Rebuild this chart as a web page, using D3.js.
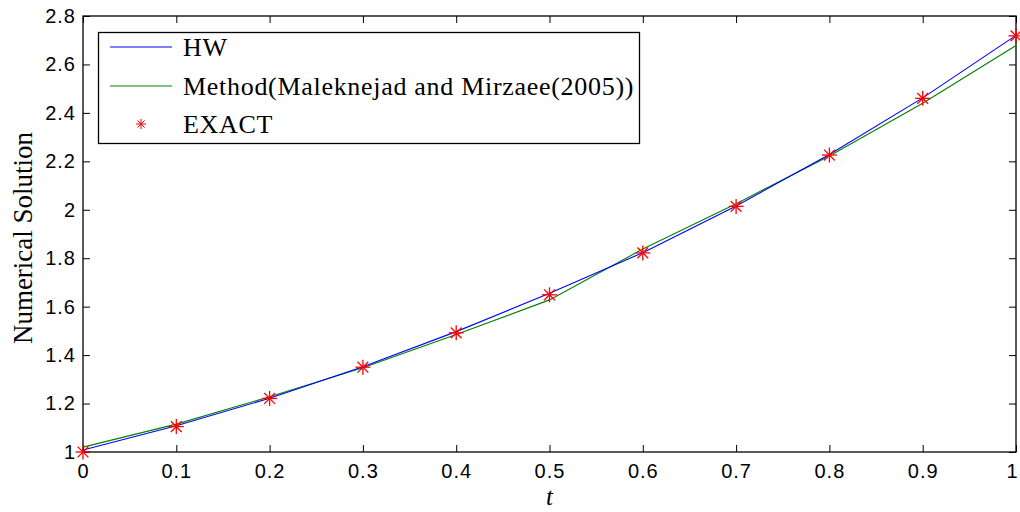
<!DOCTYPE html>
<html>
<head>
<meta charset="utf-8">
<script src="https://cdn.jsdelivr.net/npm/d3@7"></script>
<style>
  body { margin: 0; background: #fff; }
  svg { display: block; }
</style>
</head>
<body>
<div id="chart"></div>
<script>
const tValues = [0, 0.1, 0.2, 0.3, 0.4, 0.5, 0.6, 0.7, 0.8, 0.9, 1.0]
const hwValues = [1.008, 1.108, 1.222, 1.352, 1.497, 1.655, 1.823, 2.016, 2.228, 2.462, 2.720]
const methodValues = [1.020, 1.115, 1.228, 1.348, 1.485, 1.628, 1.838, 2.025, 2.222, 2.440, 2.678]
const exactValues = [1.000, 1.105, 1.221, 1.350, 1.492, 1.649, 1.822, 2.014, 2.226, 2.460, 2.718]
const xTicks = [0, 0.1, 0.2, 0.3, 0.4, 0.5, 0.6, 0.7, 0.8, 0.9, 1]
const yTicks = [1, 1.2, 1.4, 1.6, 1.8, 2, 2.2, 2.4, 2.6, 2.8]
const legendLabels = ["HW", "Method(Maleknejad and Mirzaee(2005))", "EXACT"]

const W = 1020, H = 512
const margin = { top: 16, right: 4, bottom: 60, left: 83 }

const svg = d3.select("#chart")
    .append("svg")
    .attr("width", W)
    .attr("height", H)

const x = d3.scaleLinear()
    .domain([0, 1])
    .range([margin.left, W - margin.right])

const y = d3.scaleLinear()
    .domain([1, 2.8])
    .range([H - margin.bottom, margin.top])

const tickFont = "'Liberation Sans', Arial, sans-serif"
const serif = "'Liberation Serif', 'Times New Roman', serif"

// axes with inward ticks, MATLAB style
const xAxis = d3.axisBottom(x).tickValues(xTicks).tickSizeInner(-7).tickSizeOuter(0)
    .tickPadding(12).tickFormat(d3.format("~g"))
const yAxis = d3.axisLeft(y).tickValues(yTicks).tickSizeInner(-7).tickSizeOuter(0)
    .tickPadding(7).tickFormat(d3.format("~g"))
const xTop = d3.axisTop(x).tickValues(xTicks).tickSizeInner(-7).tickSizeOuter(0).tickFormat("")
const yRight = d3.axisRight(y).tickValues(yTicks).tickSizeInner(-7).tickSizeOuter(0).tickFormat("")

function styleAxis(g) {
    g.attr("font-size", null).attr("font-family", null)
    g.select(".domain").remove()
    g.selectAll("line").attr("stroke", "#000").attr("stroke-width", 1)
    g.selectAll("text").attr("fill", "#000")
        .style("font-family", tickFont).style("font-size", "20px")
        .style("letter-spacing", "1px")
}

const xAxisG = svg.append("g").attr("transform", `translate(0,${y(1)})`).call(xAxis).call(styleAxis)
svg.append("g").attr("transform", `translate(${x(0)},0)`).call(yAxis).call(styleAxis)
svg.append("g").attr("transform", `translate(0,${y(2.8)})`).call(xTop).call(styleAxis)
svg.append("g").attr("transform", `translate(${x(1)},0)`).call(yRight).call(styleAxis)

// keep the last x label inside the page
xAxisG.selectAll(".tick text").filter(d => d === 1).attr("dx", -4)

svg.append("rect")
    .attr("x", x(0)).attr("y", y(2.8))
    .attr("width", x(1) - x(0)).attr("height", y(1) - y(2.8))
    .attr("fill", "none").attr("stroke", "#000").attr("stroke-width", 1.3)

// series
const line = d3.line()
    .x((d, i) => x(tValues[i]))
    .y(d => y(d))

svg.append("path").datum(methodValues)
    .attr("d", line).attr("fill", "none").attr("stroke", "#008000").attr("stroke-width", 1.1)
svg.append("path").datum(hwValues)
    .attr("d", line).attr("fill", "none").attr("stroke", "#0000ff").attr("stroke-width", 1.1)

function star(g, r, w) {
    const d = r * 0.72
    g.append("line").attr("x1", -r).attr("x2", r).attr("y1", 0).attr("y2", 0)
    g.append("line").attr("x1", 0).attr("x2", 0).attr("y1", -r).attr("y2", r)
    g.append("line").attr("x1", -d).attr("x2", d).attr("y1", -d).attr("y2", d)
    g.append("line").attr("x1", -d).attr("x2", d).attr("y1", d).attr("y2", -d)
    g.selectAll("line").attr("stroke", "#ff0000").attr("stroke-width", w)
}

svg.append("g").selectAll("g")
    .data(exactValues)
    .join("g")
    .attr("transform", (d, i) => `translate(${x(tValues[i])},${y(d)})`)
    .each(function () { star(d3.select(this), 7.5, 1.3) })

// axis labels
svg.append("text")
    .attr("transform", `translate(32,${(y(1) + y(2.8)) / 2 + 4}) rotate(-90)`)
    .attr("text-anchor", "middle")
    .style("font-family", serif).style("font-size", "27px")
    .text("Numerical Solution")

svg.append("text")
    .attr("x", (x(0) + x(1)) / 2).attr("y", 505)
    .attr("text-anchor", "middle")
    .style("font-family", serif).style("font-size", "25px").style("font-style", "italic")
    .text("t")

// legend
const legend = svg.append("g")
legend.append("rect")
    .attr("x", 98.5).attr("y", 32.5).attr("width", 541).attr("height", 111)
    .attr("fill", "#fff").attr("stroke", "#000").attr("stroke-width", 1.3)

const rowY = [47, 86, 124]
legend.append("line").attr("x1", 110).attr("x2", 172).attr("y1", rowY[0]).attr("y2", rowY[0])
    .attr("stroke", "#0000ff")
legend.append("line").attr("x1", 110).attr("x2", 172).attr("y1", rowY[1]).attr("y2", rowY[1])
    .attr("stroke", "#008000")
star(legend.append("g").attr("transform", `translate(141,${rowY[2]})`), 5, 1)

legend.selectAll("text.lab")
    .data(legendLabels)
    .join("text")
    .attr("class", "lab")
    .attr("x", 183)
    .attr("y", (d, i) => rowY[i] + 9)
    .style("font-family", serif).style("font-size", "26px")
    .style("letter-spacing", "0.7px")
    .text(d => d)
</script>
</body>
</html>
